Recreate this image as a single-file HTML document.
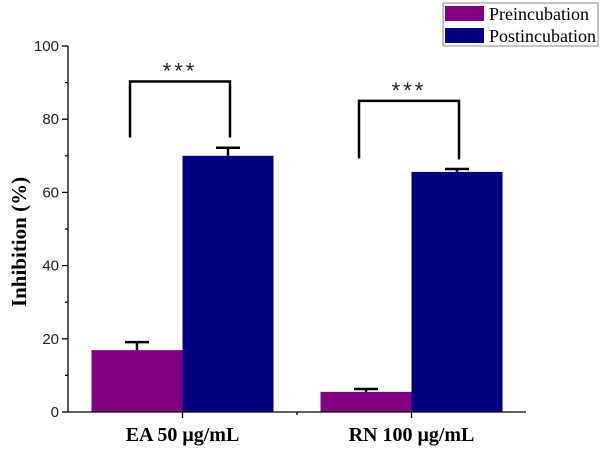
<!DOCTYPE html>
<html><head><meta charset="utf-8"><style>
body{margin:0;background:#fff}
svg{display:block}
.tk{font-family:"Liberation Sans",sans-serif;font-size:15px;fill:#222}
.cat{font-family:"Liberation Serif",serif;font-size:20px;font-weight:bold}
.lg{font-family:"Liberation Serif",serif;font-size:18px}
</style></head><body>
<svg id="chart" width="600" height="449"></svg>
<script>
const categories=["EA 50 μg/mL","RN 100 μg/mL"];
const preValues=[16.9,5.5];
const preErrors=[2.2,0.8];
const postValues=[70.0,65.6];
const postErrors=[2.2,0.8];
const yTicks=[0,20,40,60,80,100];
const bracketTop=[90.3,85];
const bracketLeftEnd=[75,69.3];
const bracketRightEnd=[75,69];
const seriesNames=["Preincubation","Postincubation"];
const colors=["#800080","#000080"];

const NS="http://www.w3.org/2000/svg";
const svg=document.getElementById('chart');
const X0=68,X1=526,Y0=412,Y1=46;
const y=v=>Y0-(Y0-Y1)*v/100;
const band=(X1-X0)/categories.length;
const cx=i=>X0+band*(i+0.5);
const bw=91;
function el(t,a,p){const e=document.createElementNS(NS,t);for(const k in a)e.setAttribute(k,a[k]);(p||svg).appendChild(e);return e;}

categories.forEach((c,i)=>{
 [[preValues,preErrors,-1],[postValues,postErrors,0]].forEach(([vals,errs,off],s)=>{
  const x=cx(i)+off*bw;
  const r=el('rect',{x:x,y:y(vals[i]),width:bw,height:Y0-y(vals[i]),fill:colors[s]});
  
  
  const ex=x+bw/2, et=y(vals[i]+errs[i]);
  const g=el('path',{d:`M${ex},${y(vals[i])}V${et}M${ex-12},${et}H${ex+12}`,stroke:'#000','stroke-width':2.5,fill:'none'});
  
  
 });
 const t=el('text',{x:cx(i),y:441,'text-anchor':'middle',class:'cat'});t.textContent=c;
 
 
 const lx=cx(i)-bw/2-7, rx=cx(i)+bw/2+2;
 const b=el('path',{d:`M${lx},${y(bracketLeftEnd[i])}V${y(bracketTop[i])}H${rx}V${y(bracketRightEnd[i])}`,stroke:'#000','stroke-width':2.5,fill:'none'});
 
 
 const st=el('text',{x:(lx+rx)/2,y:y(bracketTop[i])-3,'text-anchor':'middle',class:'tk',style:'font-size:22px;letter-spacing:3px'});st.textContent='***';
 
 
});

const ax=el('path',{d:`M${X0},${Y1}V${Y0}H${X1}`,stroke:'#000','stroke-width':1.3,fill:'none'});


yTicks.forEach(v=>{
 el('line',{x1:X0-6,x2:X0,y1:y(v),y2:y(v),stroke:'#000','stroke-width':1.3});
 const t=el('text',{x:X0-9,y:y(v)+5,'text-anchor':'end',class:'tk'});t.textContent=v;
 
 
});
for(let v=10;v<100;v+=20)el('line',{x1:X0-3,x2:X0,y1:y(v),y2:y(v),stroke:'#000','stroke-width':1.3});
for(let k=1;k<categories.length;k++){
 const x=X0+band*k;
 el('line',{x1:x,x2:x,y1:Y0,y2:Y0+3,stroke:'#000','stroke-width':1.3});
}
categories.forEach((c,i)=>el('line',{x1:cx(i),x2:cx(i),y1:Y0,y2:Y0+6,stroke:'#000','stroke-width':1.3}));
const yt=el('text',{x:0,y:0,transform:'translate(26,242) rotate(-90)','text-anchor':'middle',class:'cat',style:'font-size:21px'});yt.textContent='Inhibition (%)';



const lg=el('g',{});


el('rect',{x:443,y:3,width:155,height:43,fill:'#fff',stroke:'#888','stroke-width':1},lg);
seriesNames.forEach((n,s)=>{
 const yy=6+s*22;
 el('rect',{x:445,y:yy,width:39,height:15,fill:colors[s]},lg);
 const t=el('text',{x:489,y:yy+14,class:'lg'},lg);t.textContent=n;
 
 
});
</script>
</body></html>
